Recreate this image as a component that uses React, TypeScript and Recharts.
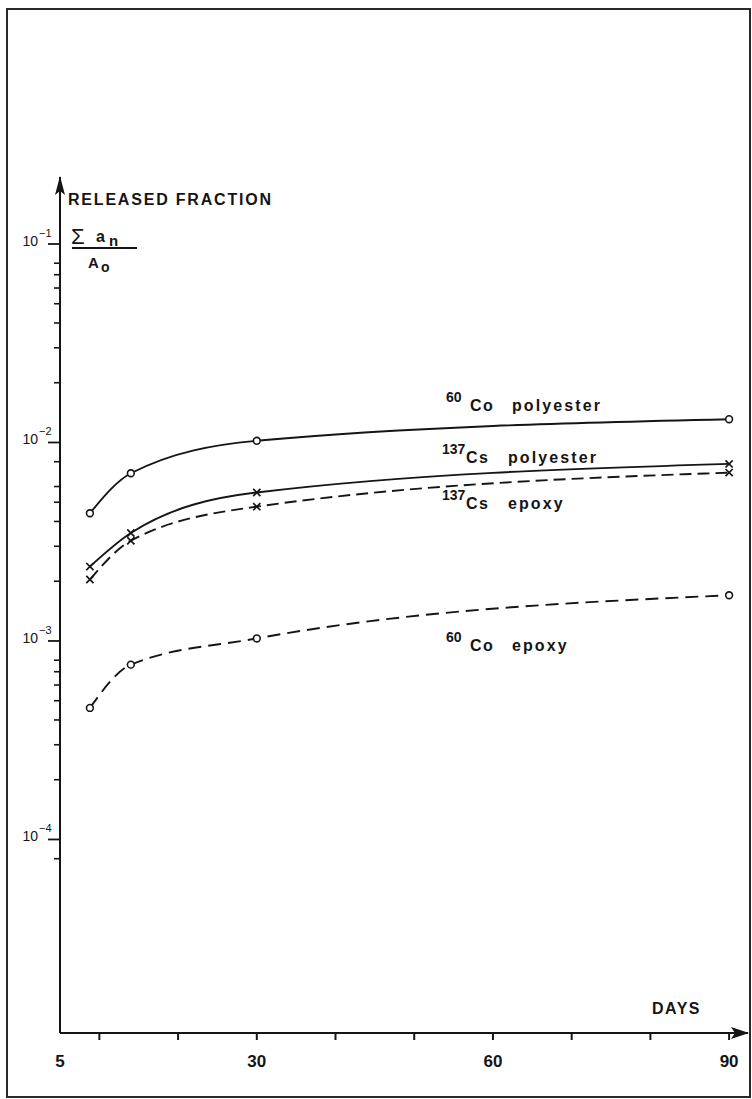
import { LineChart, Line, XAxis, YAxis } from 'recharts';

// days after immersion (x) for all four series
const DAYS = [8.8, 14, 30, 90];

// released fraction  Σaₙ / A₀
const CO_POLYESTER = [4.4e-3, 7.0e-3, 1.02e-2, 1.31e-2];
const CS_POLYESTER = [2.37e-3, 3.5e-3, 5.6e-3, 7.8e-3];
const CS_EPOXY = [2.04e-3, 3.2e-3, 4.75e-3, 7.05e-3];
const CO_EPOXY = [4.6e-4, 7.6e-4, 1.03e-3, 1.7e-3];

const X_TICKS = [5, 10, 20, 30, 40, 50, 60, 70, 80, 90];
const X_LABELS = [5, 30, 60, 90];
const Y_MAJOR = [1e-4, 1e-3, 1e-2, 1e-1];
const Y_MINOR = [
  8e-5,
  2e-4, 3e-4, 4e-4, 5e-4, 6e-4, 7e-4, 8e-4,
  2e-3, 3e-3, 4e-3, 5e-3, 6e-3, 8e-3,
  2e-2, 3e-2, 4e-2, 5e-2, 6e-2, 7e-2, 8e-2,
];

const Y_DOMAIN: [number, number] = [Math.pow(10, -4.975), Math.pow(10, -0.6625)];
const X_DOMAIN: [number, number] = [5, 92.4];

const INK = '#151515';
const FONT = '"Liberation Sans", Arial, Helvetica, sans-serif';

const toRows = (values: number[]) => DAYS.map((day, i) => ({ day, value: values[i] }));

function CircleDot(props: any) {
  const { cx, cy, index } = props;
  return <circle key={`c-${index}`} cx={cx} cy={cy} r={3.4} fill="#fff" stroke={INK} strokeWidth={1.6} />;
}

function CrossDot(props: any) {
  const { cx, cy, index } = props;
  const s = 3.6;
  return (
    <g key={`x-${index}`} stroke={INK} strokeWidth={1.7}>
      <line x1={cx - s} y1={cy - s} x2={cx + s} y2={cy + s} />
      <line x1={cx - s} y1={cy + s} x2={cx + s} y2={cy - s} />
    </g>
  );
}

function XTick(props: any) {
  const { x, y, payload } = props;
  const v = payload.value;
  return (
    <g>
      {v !== 5 && <line x1={x} y1={y} x2={x} y2={y + 7} stroke={INK} strokeWidth={2} />}
      {X_LABELS.includes(v) && (
        <text x={x} y={y + 34} textAnchor="middle" fontFamily={FONT} fontWeight={700} fontSize={17} fill={INK}>
          {v}
        </text>
      )}
    </g>
  );
}

function YTick(props: any) {
  const { x, y, payload } = props;
  const v = payload.value;
  const exp = Math.round(Math.log10(v));
  const isMajor = Y_MAJOR.some((m) => Math.abs(m - v) / m < 1e-6);
  if (!isMajor) {
    return <line x1={x - 6} y1={y} x2={x} y2={y} stroke={INK} strokeWidth={1.6} />;
  }
  return (
    <g>
      <line x1={x - 12} y1={y} x2={x} y2={y} stroke={INK} strokeWidth={1.8} />
      <text x={x - 22} y={y + 2} textAnchor="end" fontFamily={FONT} fontSize={14} fill={INK}>
        10
      </text>
      <text x={x - 21} y={y - 7} textAnchor="start" fontFamily={FONT} fontSize={11} fill={INK}>
        {`\u2212${-exp}`}
      </text>
    </g>
  );
}

function SeriesLabel({ x, y, iso, el, mat }: { x: number; y: number; iso: string; el: string; mat: string }) {
  return (
    <g fontFamily={FONT} fontWeight={700} fill={INK}>
      <text x={x} y={y - 9} fontSize={14}>{iso}</text>
      <text x={x + 24} y={y} fontSize={16} letterSpacing={1.5}>{el}</text>
      <text x={x + 66} y={y} fontSize={16} letterSpacing={2.1}>{mat}</text>
    </g>
  );
}

export default function App() {
  return (
    <div style={{ position: 'absolute', left: 0, top: 0, width: 752, height: 1099, background: '#fff' }}>
      <LineChart width={752} height={1099} margin={{ top: 177, right: 4, bottom: 36, left: 0 }}>
        <XAxis
          type="number"
          dataKey="day"
          domain={X_DOMAIN}
          ticks={X_TICKS}
          interval={0}
          allowDataOverflow
          height={30}
          tickSize={0}
          tickMargin={0}
          tickLine={false}
          axisLine={{ stroke: INK, strokeWidth: 2 }}
          tick={(p: any) => <XTick {...p} />}
        />
        <YAxis
          type="number"
          scale="log"
          domain={Y_DOMAIN}
          ticks={[...Y_MAJOR, ...Y_MINOR]}
          interval={0}
          allowDataOverflow
          width={60}
          tickSize={0}
          tickMargin={0}
          tickLine={false}
          axisLine={{ stroke: INK, strokeWidth: 2 }}
          tick={(p: any) => <YTick {...p} />}
        />
        <Line data={toRows(CO_POLYESTER)} dataKey="value" type="monotone" stroke={INK} strokeWidth={1.9}
          dot={CircleDot} activeDot={false} isAnimationActive={false} />
        <Line data={toRows(CS_POLYESTER)} dataKey="value" type="monotone" stroke={INK} strokeWidth={1.9}
          dot={CrossDot} activeDot={false} isAnimationActive={false} />
        <Line data={toRows(CS_EPOXY)} dataKey="value" type="monotone" stroke={INK} strokeWidth={1.9}
          strokeDasharray="12 6" dot={CrossDot} activeDot={false} isAnimationActive={false} />
        <Line data={toRows(CO_EPOXY)} dataKey="value" type="monotone" stroke={INK} strokeWidth={1.9}
          strokeDasharray="13 7" dot={CircleDot} activeDot={false} isAnimationActive={false} />
      </LineChart>

      <svg width={752} height={1099} style={{ position: 'absolute', left: 0, top: 0, pointerEvents: 'none' }}>
        <rect x={7} y={9} width={743} height={1088} fill="none" stroke="#2a2a2a" strokeWidth={2} />
        {/* axis arrow heads */}
        <path d="M60,176 L55,195 L60,191 L65,195 Z" fill={INK} />
        <path d="M749,1033 L731,1027 L735,1033 L731,1039 Z" fill={INK} />

        <g fontFamily={FONT} fontWeight={700} fill={INK}>
          <text x={68} y={205} fontSize={16} letterSpacing={1.8}>RELEASED FRACTION</text>
          <text x={652} y={1014} fontSize={16} letterSpacing={1.5}>DAYS</text>
        </g>

        <g fontFamily={FONT} fill={INK}>
          <text x={71} y={244} fontSize={22}>Σ</text>
          <text x={96} y={242} fontSize={16} fontWeight={700}>a</text>
          <text x={109} y={246} fontSize={15} fontWeight={700}>n</text>
          <line x1={72} y1={248} x2={137} y2={248} stroke={INK} strokeWidth={2} />
          <text x={88} y={268} fontSize={15} fontWeight={700}>A</text>
          <text x={101} y={272} fontSize={14} fontWeight={700}>o</text>
        </g>

        <SeriesLabel x={446} y={411} iso="60" el="Co" mat="polyester" />
        <SeriesLabel x={442} y={463} iso="137" el="Cs" mat="polyester" />
        <SeriesLabel x={442} y={509} iso="137" el="Cs" mat="epoxy" />
        <SeriesLabel x={446} y={651} iso="60" el="Co" mat="epoxy" />
      </svg>
    </div>
  );
}
